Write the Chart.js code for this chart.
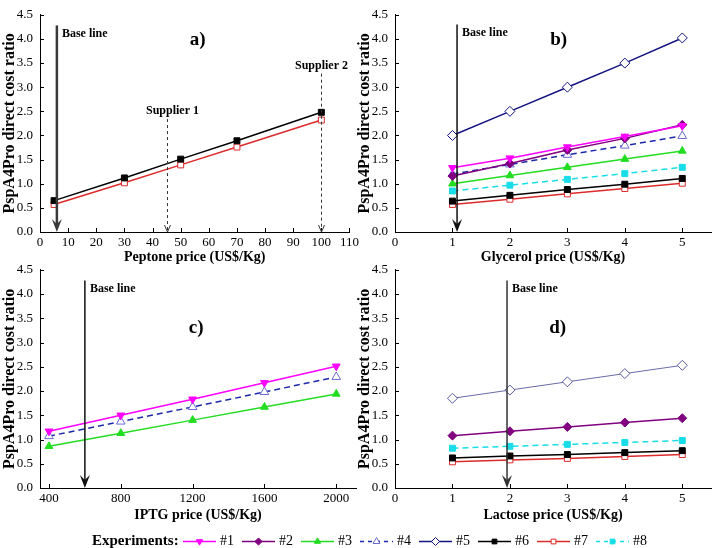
<!DOCTYPE html>
<html>
<head>
<meta charset="utf-8">
<script src="https://cdn.jsdelivr.net/npm/chart.js@4.4.1/dist/chart.umd.min.js"></script>
<style>
  html, body { margin: 0; padding: 0; background: #fff; }
  #wrap { position: relative; width: 717px; height: 548px; overflow: hidden; }
  canvas { position: absolute; }
</style>
</head>
<body>
<div id="wrap">
  <canvas id="chartA" width="362" height="270" style="left:0;top:0"></canvas>
  <canvas id="chartB" width="362" height="270" style="left:355px;top:0"></canvas>
  <canvas id="chartC" width="362" height="270" style="left:0;top:255px"></canvas>
  <canvas id="chartD" width="362" height="270" style="left:355px;top:255px"></canvas>
  <canvas id="legend" width="717" height="23" style="left:0;top:525px"></canvas>
</div>
<script>
// tick labels
var yTicks = [0, 0.5, 1, 1.5, 2, 2.5, 3, 3.5, 4, 4.5];
var peptoneTicks = [0, 10, 20, 30, 40, 50, 60, 70, 80, 90, 100, 110];
var glycerolTicks = [0, 1, 2, 3, 4, 5];
var iptgTicks = [400, 800, 1200, 1600, 2000];
var lactoseTicks = [0, 1, 2, 3, 4, 5];

// a) peptone
var peptonePrice = [5, 30, 50, 70, 100];
var peptoneExp6 = [0.65, 1.12, 1.51, 1.89, 2.48];
var peptoneExp7 = [0.57, 1.02, 1.39, 1.76, 2.32];

// b) glycerol
var glycerolPrice = [1, 2, 3, 4, 5];
var glycerolExp1 = [1.33, 1.53, 1.76, 1.98, 2.20];
var glycerolExp2 = [1.16, 1.42, 1.70, 1.94, 2.22];
var glycerolExp3 = [1.00, 1.17, 1.34, 1.51, 1.68];
var glycerolExp4 = [1.20, 1.40, 1.60, 1.79, 1.99];
var glycerolExp5 = [2.00, 2.50, 3.00, 3.50, 4.02];
var glycerolExp6 = [0.64, 0.76, 0.88, 0.99, 1.11];
var glycerolExp7 = [0.57, 0.68, 0.79, 0.90, 1.01];
var glycerolExp8 = [0.85, 0.97, 1.09, 1.21, 1.34];

// c) IPTG
var iptgPrice = [400, 800, 1200, 1600, 2000];
var iptgExp1 = [1.17, 1.50, 1.83, 2.17, 2.51];
var iptgExp3 = [0.86, 1.13, 1.40, 1.67, 1.94];
var iptgExp4 = [1.07, 1.37, 1.67, 1.98, 2.29];

// d) lactose
var lactosePrice = [1, 2, 3, 4, 5];
var lactoseExp2 = [1.08, 1.17, 1.26, 1.35, 1.44];
var lactoseExp5 = [1.85, 2.02, 2.19, 2.36, 2.53];
var lactoseExp6 = [0.62, 0.66, 0.69, 0.73, 0.77];
var lactoseExp7 = [0.54, 0.58, 0.61, 0.65, 0.69];
var lactoseExp8 = [0.82, 0.86, 0.90, 0.94, 0.98];

var experiments = ['#1', '#2', '#3', '#4', '#5', '#6', '#7', '#8'];

var SERIF = '"Liberation Serif", "DejaVu Serif", serif';
Chart.defaults.color = '#000';
Chart.defaults.font.family = SERIF;

//look of each experiment
var expStyle = {
  '#1': { line: '#ff00ff', fill: '#ff00ff', edge: '#ff00ff', shape: 'triangle', rot: 180, r: 4.5, dash: [] },
  '#2': { line: '#800080', fill: '#800080', edge: '#800080', shape: 'rectRot', rot: 0, r: 4.5, dash: [] },
  '#3': { line: '#22dd22', fill: '#22dd22', edge: '#22dd22', shape: 'triangle', rot: 0, r: 4.5, dash: [] },
  '#4': { line: '#1c2aa8', fill: '#ffffff', edge: '#6a6ad2', shape: 'triangle', rot: 0, r: 5, dash: [6, 4] },
  '#5': { line: '#141480', fill: '#ffffff', edge: '#141480', shape: 'rectRot', rot: 0, r: 5, dash: [] },
  '#6': { line: '#000000', fill: '#000000', edge: '#000000', shape: 'rect', rot: 0, r: 4.2, dash: [] },
  '#7': { line: '#dd2a2a', fill: '#ffffff', edge: '#dd2a2a', shape: 'rect', rot: 0, r: 4.2, dash: [] },
  '#8': { line: '#18dde8', fill: '#18dde8', edge: '#18dde8', shape: 'rect', rot: 0, r: 4.2, dash: [6, 4] }
};

function series(name, xs, ys, over) {
  var s = expStyle[name];
  over = over || {};
  return {
    label: name,
    data: xs.map(function(x, i) { return { x: x, y: ys[i] }; }),
    borderColor: over.line || s.line,
    backgroundColor: s.fill,
    borderWidth: over.width || 1.5,
    borderDash: s.dash,
    pointStyle: s.shape,
    rotation: s.rot,
    pointRadius: s.r,
    pointBackgroundColor: s.fill,
    pointBorderColor: over.edge || s.edge,
    pointBorderWidth: 1,
    tension: 0,
    fill: false
  };
}

//arrow, labels, panel letter and inward ticks
var panelMarks = {
  id: 'panelMarks',
  afterDatasetsDraw: function(chart, args, opts) {
    var ctx = chart.ctx, xs = chart.scales.x, ys = chart.scales.y, area = chart.chartArea;
    ctx.save();

    ctx.strokeStyle = '#000';
    ctx.lineWidth = 1;
    ctx.beginPath();
    xs.ticks.forEach(function(t) {
      var px = Math.round(xs.getPixelForValue(t.value)) + 0.5;
      ctx.moveTo(px, area.bottom);
      ctx.lineTo(px, area.bottom - 4);
    });
    ys.ticks.forEach(function(t) {
      var py = Math.round(ys.getPixelForValue(t.value)) + 0.5;
      ctx.moveTo(area.left, py);
      ctx.lineTo(area.left + 4, py);
    });
    ctx.stroke();

    //base line arrow
    var bx = xs.getPixelForValue(opts.baseX);
    var top = ys.getPixelForValue(opts.arrowTop);
    var tip = ys.getPixelForValue(0);
    ctx.strokeStyle = opts.arrowColor;
    ctx.fillStyle = opts.arrowColor;
    ctx.lineWidth = opts.arrowWidth;
    ctx.beginPath();
    ctx.moveTo(bx, top);
    ctx.lineTo(bx, tip - 6);
    ctx.stroke();
    ctx.beginPath();
    ctx.moveTo(bx, tip);
    ctx.lineTo(bx - 5, tip - 13);
    ctx.lineTo(bx, tip - 8);
    ctx.lineTo(bx + 5, tip - 13);
    ctx.closePath();
    ctx.fill();

    ctx.fillStyle = '#000';
    ctx.font = 'bold 12px ' + SERIF;
    ctx.textAlign = 'left';
    ctx.textBaseline = 'middle';
    ctx.fillText('Base line', bx + 5, ys.getPixelForValue(opts.baseLabelY));

    //supplier markers (panel a only)
    (opts.suppliers || []).forEach(function(sp) {
      var sx = Math.round(xs.getPixelForValue(sp.x)) + 0.5;
      var sTop = ys.getPixelForValue(sp.top);
      ctx.strokeStyle = '#333';
      ctx.lineWidth = 1;
      ctx.setLineDash([3, 3]);
      ctx.beginPath();
      ctx.moveTo(sx, sTop);
      ctx.lineTo(sx, tip);
      ctx.stroke();
      ctx.setLineDash([]);
      ctx.beginPath();
      ctx.moveTo(sx - 3, tip - 7);
      ctx.lineTo(sx, tip);
      ctx.lineTo(sx + 3, tip - 7);
      ctx.stroke();
      ctx.textAlign = 'center';
      ctx.fillText(sp.text, sx + sp.dx, ys.getPixelForValue(sp.labelY));
    });

    ctx.font = 'bold 19px ' + SERIF;
    ctx.textAlign = 'center';
    ctx.fillText(opts.letter, xs.getPixelForValue(opts.letterX), ys.getPixelForValue(opts.letterY));
    ctx.restore();
  }
};

function makeChart(id, cfg) {
  return new Chart(document.getElementById(id), {
    type: 'line',
    data: { datasets: cfg.datasets },
    plugins: [panelMarks],
    options: {
      responsive: false,
      animation: false,
      layout: { padding: { left: 0, right: cfg.padRight, top: 7, bottom: 0 } },
      plugins: {
        legend: { display: false },
        tooltip: { enabled: false },
        panelMarks: cfg.marks
      },
      scales: {
        x: {
          type: 'linear',
          min: cfg.xMin,
          max: cfg.xMax,
          afterBuildTicks: function(s) { s.ticks = cfg.xTicks.map(function(v) { return { value: v }; }); },
          afterFit: function(s) { s.height = cfg.xHeight; },
          grid: { display: true, drawOnChartArea: false, drawTicks: false },
          border: { display: true, color: '#000', width: 1 },
          ticks: { font: { size: 13 }, color: '#000', padding: 3, maxRotation: 0, autoSkip: false,
                   callback: function(v) { return String(v); } },
          title: { display: true, text: cfg.xTitle, color: '#000',
                   font: { size: 14, weight: 'bold' }, padding: { top: 0, bottom: cfg.titlePad } }
        },
        y: {
          type: 'linear',
          min: 0,
          max: 4.5,
          afterBuildTicks: function(s) { s.ticks = yTicks.map(function(v) { return { value: v }; }); },
          afterFit: function(s) { s.width = 40; },
          grid: { display: true, drawOnChartArea: false, drawTicks: false },
          border: { display: true, color: '#000', width: 1 },
          ticks: { font: { size: 13 }, color: '#000', padding: 7,
                   callback: function(v) { return Number(v).toFixed(1); } },
          title: { display: true, text: 'PspA4Pro direct cost ratio', color: '#000',
                   font: { size: 16, weight: 'bold' }, padding: { top: 0, bottom: 0 } }
        }
      }
    }
  });
}

makeChart('chartA', {
  xMin: 0, xMax: 110, xTicks: peptoneTicks, padRight: 12, xHeight: 38, titlePad: 4,
  xTitle: 'Peptone price (US$/Kg)',
  datasets: [
    series('#6', peptonePrice, peptoneExp6),
    series('#7', peptonePrice, peptoneExp7)
  ],
  marks: {
    baseX: 6, arrowTop: 4.28, baseLabelY: 4.1, arrowWidth: 2.5, arrowColor: '#3a3a3a',
    letter: 'a)', letterX: 56, letterY: 3.98,
    suppliers: [
      { x: 45, top: 2.34, labelY: 2.5, text: 'Supplier 1', dx: 5 },
      { x: 100, top: 3.28, labelY: 3.44, text: 'Supplier 2', dx: 0 }
    ]
  }
});

makeChart('chartB', {
  xMin: 0, xMax: 5.5, xTicks: glycerolTicks, padRight: 0, xHeight: 38, titlePad: 4,
  xTitle: 'Glycerol price (US$/Kg)',
  datasets: [
    series('#5', glycerolPrice, glycerolExp5),
    series('#1', glycerolPrice, glycerolExp1),
    series('#2', glycerolPrice, glycerolExp2),
    series('#4', glycerolPrice, glycerolExp4),
    series('#3', glycerolPrice, glycerolExp3),
    series('#8', glycerolPrice, glycerolExp8),
    series('#6', glycerolPrice, glycerolExp6),
    series('#7', glycerolPrice, glycerolExp7)
  ],
  marks: {
    baseX: 1.08, arrowTop: 4.3, baseLabelY: 4.13, arrowWidth: 1.5, arrowColor: '#111',
    letter: 'b)', letterX: 2.85, letterY: 3.98
  }
});

makeChart('chartC', {
  xMin: 350, xMax: 2110, xTicks: iptgTicks, padRight: 4, xHeight: 37, titlePad: 1,
  xTitle: 'IPTG price (US$/Kg)',
  datasets: [
    series('#1', iptgPrice, iptgExp1),
    series('#4', iptgPrice, iptgExp4),
    series('#3', iptgPrice, iptgExp3)
  ],
  marks: {
    baseX: 600, arrowTop: 4.28, baseLabelY: 4.1, arrowWidth: 1.5, arrowColor: '#111',
    letter: 'c)', letterX: 1220, letterY: 3.3
  }
});

makeChart('chartD', {
  xMin: 0, xMax: 5.5, xTicks: lactoseTicks, padRight: 0, xHeight: 37, titlePad: 1,
  xTitle: 'Lactose price (US$/Kg)',
  datasets: [
    series('#5', lactosePrice, lactoseExp5, { line: '#6a6aa8', width: 1, edge: '#5a5aa0' }),
    series('#2', lactosePrice, lactoseExp2),
    series('#8', lactosePrice, lactoseExp8),
    series('#6', lactosePrice, lactoseExp6),
    series('#7', lactosePrice, lactoseExp7)
  ],
  marks: {
    baseX: 1.95, arrowTop: 4.28, baseLabelY: 4.1, arrowWidth: 1.5, arrowColor: '#333',
    letter: 'd)', letterX: 2.83, letterY: 3.3
  }
});

//legend strip: line + marker + name for every experiment
var legendStrip = {
  id: 'legendStrip',
  afterDraw: function(chart) {
    var ctx = chart.ctx, y = 16;
    ctx.save();
    ctx.fillStyle = '#000';
    ctx.font = 'bold 15px ' + SERIF;
    ctx.textAlign = 'left';
    ctx.textBaseline = 'middle';
    ctx.fillText('Experiments:', 92, y);
    var x = 183;
    chart.data.datasets.forEach(function(ds) {
      var s = expStyle[ds.label];
      ctx.strokeStyle = s.line;
      ctx.lineWidth = 1.5;
      ctx.setLineDash(s.dash.length ? [4, 4] : []);
      ctx.beginPath();
      ctx.moveTo(x, y + 0.5);
      ctx.lineTo(x + 33, y + 0.5);
      ctx.stroke();
      ctx.setLineDash([]);
      ctx.fillStyle = s.fill;
      ctx.strokeStyle = s.edge;
      ctx.lineWidth = 1;
      Chart.helpers.drawPoint(ctx, { pointStyle: s.shape, rotation: s.rot, radius: s.r * 0.8, borderWidth: 1 }, x + 16.5, y + 0.5);
      ctx.fillStyle = '#000';
      ctx.font = '14px ' + SERIF;
      ctx.fillText(ds.label, x + 37, y);
      x += 37 + ctx.measureText(ds.label).width + 8;
    });
    ctx.restore();
  }
};

new Chart(document.getElementById('legend'), {
  type: 'line',
  data: { datasets: experiments.map(function(n) { return { label: n, data: [] }; }) },
  plugins: [legendStrip],
  options: {
    responsive: false,
    animation: false,
    plugins: { legend: { display: false }, tooltip: { enabled: false } },
    scales: { x: { display: false }, y: { display: false } }
  }
});
</script>
</body>
</html>
